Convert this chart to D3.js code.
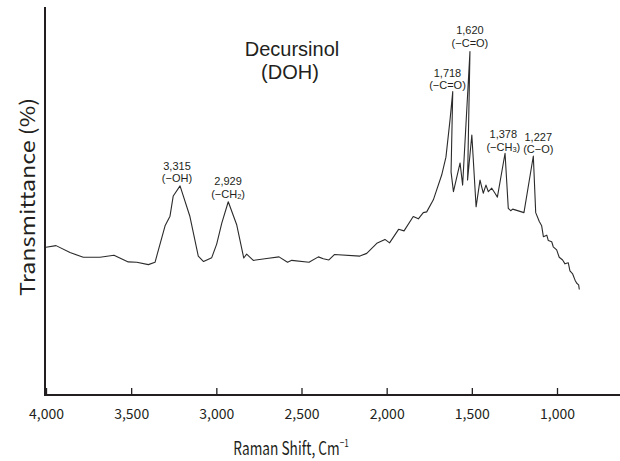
<!DOCTYPE html>
<html>
<head>
<meta charset="utf-8">
<script src="https://cdn.jsdelivr.net/npm/d3@7"></script>
<style>
  html, body { margin: 0; padding: 0; background: #fff; }
  svg { display: block; }
  text { font-family: "Noto Sans CJK KR", "Noto Sans", sans-serif; fill: #231f20; }
</style>
</head>
<body>
<svg id="chart" width="620" height="461"></svg>
<script>
// ---- data ----
const ramanShift = [4000,3941,3859,3781,3683,3601,3517,3467,3399,3360,3301,3272,3253,3213,3155,3106,3075,3027,2998,2968,2930,2880,2839,2822,2783,2704,2632,2582,2557,2456,2401,2372,2339,2307,2157,2117,2058,2010,1983,1930,1898,1844,1814,1785,1765,1726,1677,1652,1628,1612,1622,1608,1569,1554,1511,1525,1500,1475,1452,1433,1417,1403,1383,1364,1350,1305,1286,1272,1260,1194,1139,1125,1104,1090,1080,1060,1051,1031,1022,1002,987,967,953,934,924,908,894,884,873,869];
const transmittance = [38.1,38.5,36.7,35.5,35.5,36.0,34.3,34.2,33.6,34.2,43.6,46.1,51.3,53.9,46.0,35.8,34.4,35.4,38.9,44.3,49.8,43.8,35.3,36.3,34.7,35.2,35.6,34.2,34.7,34.2,35.6,35.1,34.8,36.2,35.8,36.5,39.1,40.1,39.2,42.7,42.3,46.0,45.4,47.0,47.2,50.3,56.7,61.3,70.9,78.2,57.5,52.4,59.8,54.1,88.5,55.4,67.0,48.5,55.4,52.0,54.1,52.4,53.3,52.0,51.0,62.3,48.1,47.5,47.9,47.0,61.6,47.0,44.7,43.6,40.8,41.2,39.8,39.5,38.2,37.4,35.5,34.8,33.8,34.1,32.0,31.2,29.6,28.8,28.4,27.2];
const xTicks = [4000,3500,3000,2500,2000,1500,1000];
const peakLabels = ["3,315","2,929","1,718","1,620","1,378","1,227"];
const peakGroups = [["(−OH)",""],["(−CH","2",")"],["(−C=O)",""],["(−C=O)",""],["(−CH","3",")"],["(C−O)",""]];
const peakLabelShift = [3231,2931,1643,1511,1315,1110];
const peakLabelT = [58.0,54.1,82.0,93.0,66.2,65.5];
const titleLines = ["Decursinol","(DOH)"];
const xTitle = "Raman Shift, Cm";
const yTitle = "Transmittance (%)";

// ---- layout ----
const svg = d3.select("#chart");
const axisLeftX = 45, axisRightX = 620, plotTop = 7, plotBottom = 395;
const x = d3.scaleLinear().domain([4000, 1000]).range([46, 557]);
const y = d3.scaleLinear().domain([0, 100]).range([plotBottom, plotTop]);
const ink = "#231f20";
const annFont = '"Liberation Sans", Arial, sans-serif';

// x axis ticks + labels
const xAxis = d3.axisBottom(x)
  .tickValues(xTicks)
  .tickFormat(d3.format(","))
  .tickSizeInner(-7)
  .tickSizeOuter(0)
  .tickPadding(14);
const gx = svg.append("g").attr("transform", `translate(0,${plotBottom})`).call(xAxis);
gx.select(".domain").remove();
gx.selectAll(".tick line").attr("stroke", ink).attr("stroke-width", 1.3);
gx.selectAll(".tick text").attr("font-size", 14).attr("fill", "#333")
  .style("font-family", '"Noto Sans CJK KR", "Noto Sans", sans-serif');

// axis lines
svg.append("line").attr("x1", axisLeftX).attr("x2", axisLeftX)
  .attr("y1", plotTop).attr("y2", plotBottom + 1)
  .attr("stroke", ink).attr("stroke-width", 2);
svg.append("line").attr("x1", axisLeftX - 1).attr("x2", axisRightX)
  .attr("y1", plotBottom).attr("y2", plotBottom)
  .attr("stroke", ink).attr("stroke-width", 2);

// spectrum line
const pts = ramanShift.map((s, i) => [s, transmittance[i]]);
const line = d3.line().x(d => x(d[0])).y(d => y(d[1]));
svg.append("path").datum(pts)
  .attr("d", line)
  .attr("fill", "none")
  .attr("stroke", "#2b2b2b")
  .attr("stroke-width", 1.1)
  .attr("stroke-linejoin", "round");

// peak annotations (one text element, two lines)
peakLabels.forEach((lab, i) => {
  const cx = x(peakLabelShift[i]);
  const by = y(peakLabelT[i]);
  const t = svg.append("text")
    .attr("text-anchor", "middle").attr("font-size", 11)
    .style("font-family", annFont).attr("fill", "#333");
  t.append("tspan").attr("x", cx).attr("y", by).text(lab);
  const g = peakGroups[i];
  t.append("tspan").attr("x", cx).attr("y", by + 12.5).text(g[0]);
  if (g[1]) {
    t.append("tspan").attr("font-size", 7.5).attr("dy", 1.5).text(g[1]);
    t.append("tspan").attr("dy", -1.5).text(g[2]);
  }
});

// title
const title = svg.append("text").attr("text-anchor", "middle").attr("font-size", 20)
  .style("font-family", annFont).attr("fill", "#231f20");
title.append("tspan").attr("x", 292).attr("y", 56).text(titleLines[0]);
title.append("tspan").attr("x", 290).attr("y", 79).text(titleLines[1]);

// x axis title (condensed)
const xt = svg.append("g").attr("transform", "translate(291,455) scale(0.74,1)")
  .append("text").attr("text-anchor", "middle").attr("font-size", 18.5);
xt.append("tspan").text(xTitle);
xt.append("tspan").attr("font-size", 11).attr("dy", -8).text("−1");

// y axis title (rotated)
svg.append("g").attr("transform", "translate(35,197) scale(0.88,1) rotate(-90)")
  .append("text").attr("text-anchor", "middle").attr("font-size", 23)
  .attr("textLength", 198).attr("lengthAdjust", "spacingAndGlyphs")
  .text(yTitle);
</script>
</body>
</html>
